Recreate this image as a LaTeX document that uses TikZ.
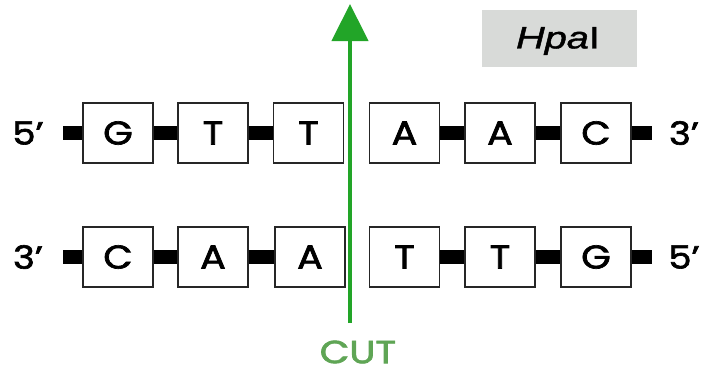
\documentclass[tikz,border=0pt]{standalone}
\usepackage{fontspec}
\usepackage{graphicx}
\newfontfamily\basefont{Poppins}[FakeBold=2]
\newfontfamily\labelfont{Liberation Sans}[FakeBold=1.2]
\usetikzlibrary{arrows.meta}
\definecolor{cutgreen}{RGB}{34,165,40}
\definecolor{cuttext}{RGB}{95,165,85}
\definecolor{enzymebg}{RGB}{216,218,216}
\newcommand{\wide}[1]{\scalebox{1.15}[1]{#1}}
\tikzset{
  base/.style={draw=black!85, line width=1.8pt, fill=white, minimum width=70pt,
    minimum height=60pt, inner sep=0pt,
    font=\basefont\fontsize{33}{36}\selectfont},
  bond/.style={line width=14pt, black},
  endlabel/.style={font=\basefont\fontsize{32}{36}\selectfont, inner sep=0pt},
  cutarrow/.style={cutgreen, line width=4.5pt, -{Triangle[width=36pt,length=37pt]}},
}
\begin{document}
\begin{tikzpicture}[x=1pt, y=-1pt]
  \useasboundingbox (0,0) rectangle (707,373);

  % enzyme name
  \node[fill=enzymebg, minimum width=155pt, minimum height=57pt, inner sep=0pt] (enz) at (559.5,38.5) {};
  \node[font=\labelfont\fontsize{31}{34}\selectfont, inner sep=0pt] (enzname) at (558,41) {\scalebox{1.28}[1]{\textit{Hpa}I}};

  % top strand 5' -> 3'
  \node[endlabel] (t5) at (28,133) {\wide{5\char"2019}};
  \node[base] (t1) at (118,133) {\wide{G}};
  \node[base] (t2) at (213,133) {\wide{T}};
  \node[base] (t3) at (308.5,133) {\wide{T}};
  \node[base] (t4) at (404.5,133) {\wide{A}};
  \node[base] (t5b) at (500,133) {\wide{A}};
  \node[base] (t6) at (596,133) {\wide{C}};
  \node[endlabel] (t3e) at (684,133) {\wide{3\char"2019}};
  \coordinate (tl) at (63,133);
  \coordinate (tr) at (652,133);

  % bottom strand 3' -> 5'
  \node[endlabel] (b3) at (28,257) {\wide{3\char"2019}};
  \node[base] (b1) at (118,257) {\wide{C}};
  \node[base] (b2) at (213,257) {\wide{A}};
  \node[base] (b3b) at (310,257) {\wide{A}};
  \node[base] (b4) at (404.5,257) {\wide{T}};
  \node[base] (b5) at (500,257) {\wide{T}};
  \node[base] (b6) at (596,257) {\wide{G}};
  \node[endlabel] (b5e) at (684,257) {\wide{5\char"2019}};
  \coordinate (bl) at (63,257);
  \coordinate (br) at (652,257);

  % backbone bonds
  \draw[bond] (tl) -- (t1.west);
  \draw[bond] (t1.east) -- (t2.west);
  \draw[bond] (t2.east) -- (t3.west);
  \draw[bond] (t4.east) -- (t5b.west);
  \draw[bond] (t5b.east) -- (t6.west);
  \draw[bond] (t6.east) -- (tr);
  \draw[bond] (bl) -- (b1.west);
  \draw[bond] (b1.east) -- (b2.west);
  \draw[bond] (b2.east) -- (b3b.west);
  \draw[bond] (b4.east) -- (b5.west);
  \draw[bond] (b5.east) -- (b6.west);
  \draw[bond] (b6.east) -- (br);

  % cut site
  \node[text=cuttext, font=\basefont\fontsize{32}{36}\selectfont, inner sep=0pt] (cut) at (358,352) {\scalebox{1.2}[1]{CUT}};
  \coordinate (cutlow) at (350,323);
  \coordinate (cuttop) at (350,4);
  \draw[cutarrow] (cutlow) -- (cuttop);
\end{tikzpicture}
\end{document}
